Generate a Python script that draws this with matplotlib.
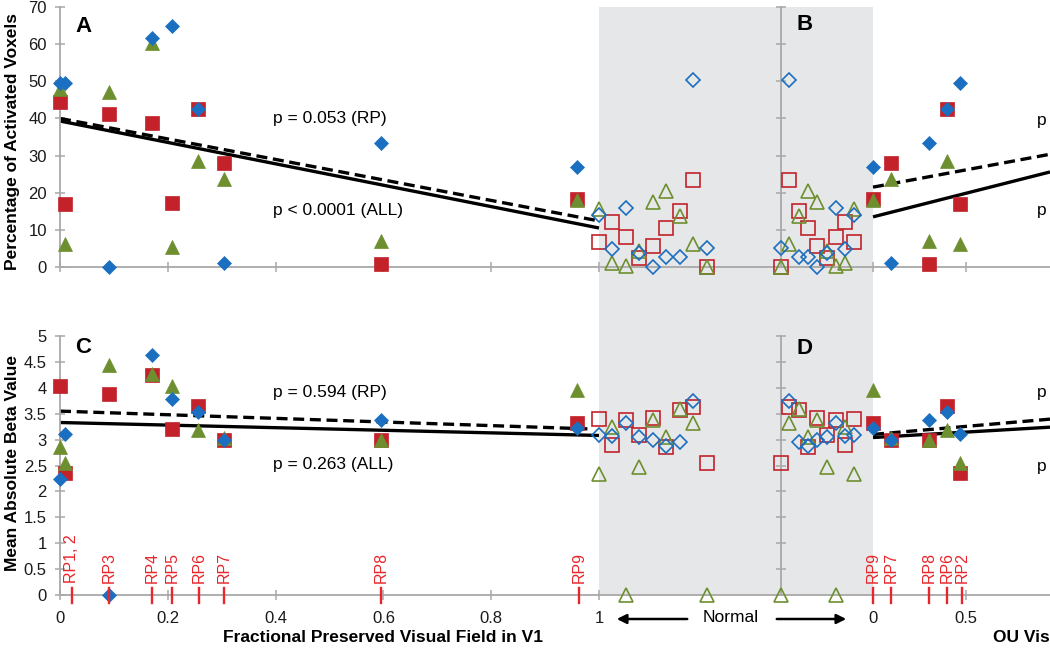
"""
Activated voxels (%) and mean absolute beta value against preserved visual
field. Filled markers are RP patients, open markers normal controls (grey
band). Left panels use fractional field in V1, right panels OU field.
"""

import matplotlib

matplotlib.use("Agg")
import matplotlib.pyplot as plt
import numpy as np
from matplotlib.patches import Rectangle

plt.rcParams.update({"font.family": ["Liberation Sans", "DejaVu Sans"]})

nan = np.nan

# patients RP1..RP9
v1_field = [0.0, 0.01, 0.09, 0.17, 0.208, 0.256, 0.304, 0.595, 0.96]
ou_field = [nan, 0.47, nan, nan, nan, 0.40, 0.097, 0.30, 0.0]

pct_blue = [49.5, 49.5, 0.0, 61.6, 65.0, 42.5, 1.0, 33.4, 27.0]
pct_red = [44.5, 17.0, 41.2, 38.8, 17.2, 42.5, 28.0, 0.8, 18.2]
pct_green = [48.0, 6.3, 47.0, 60.3, 5.3, 28.6, 23.7, 7.0, 18.0]

beta_blue = [2.24, 3.10, 0.0, 4.63, 3.78, 3.53, 3.00, 3.38, 3.23]
beta_red = [4.03, 2.36, 3.88, 4.24, 3.20, 3.64, 3.00, 3.00, 3.32]
beta_green = [2.86, 2.55, 4.44, 4.27, 4.03, 3.18, 3.03, 3.00, 3.96]

# normal controls (9), placed side by side inside the grey band
normal_x_v1 = [1.2, 1.175, 1.15, 1.125, 1.1, 1.075, 1.05, 1.025, 1.0]
normal_x_ou = [-0.495, -0.45, -0.40, -0.35, -0.30, -0.25, -0.20, -0.15, -0.10]

n_pct_blue = [5.1, 50.3, 2.7, 2.7, 0.0, 3.8, 15.9, 4.8, 14.0]
n_pct_red = [0.0, 23.4, 15.1, 10.5, 5.7, 2.4, 8.1, 12.1, 6.7]
n_pct_green = [0.0, 6.2, 13.8, 20.5, 17.5, 4.3, 0.3, 1.0, 15.6]

n_beta_blue = [nan, 3.74, 2.95, 2.87, 2.99, 3.05, 3.32, 3.06, 3.09]
n_beta_red = [2.55, 3.63, 3.58, 2.85, 3.41, 3.09, 3.38, 2.90, 3.40]
n_beta_green = [0.0, 3.32, 3.60, 3.05, 3.38, 2.47, 0.0, 3.24, 2.33]

# regression lines: (intercept, slope, x_end)
fit_a_rp = (40.0, -27.6, 1.0)
fit_a_all = (39.3, -28.8, 1.0)
fit_b_rp = (21.5, 9.3, 0.952)
fit_b_all = (13.5, 12.7, 0.952)
fit_c_rp = (3.55, -0.35, 0.98)
fit_c_all = (3.33, -0.25, 1.0)
fit_d_rp = (3.10, 0.31, 0.952)
fit_d_all = (3.04, 0.21, 0.952)

p_text_a = ["p = 0.053 (RP)", "p < 0.0001 (ALL)"]
p_text_c = ["p = 0.594 (RP)", "p = 0.263 (ALL)"]

rp_labels_v1 = ["RP1, 2", "RP3", "RP4", "RP5", "RP6", "RP7", "RP8", "RP9"]
rp_pos_v1 = [0.022, 0.091, 0.171, 0.208, 0.258, 0.305, 0.596, 0.963]
rp_labels_ou = ["RP9", "RP7", "RP8", "RP6", "RP2"]
rp_pos_ou = [0.0, 0.097, 0.30, 0.40, 0.48]

pct_ticks = [0, 10, 20, 30, 40, 50, 60, 70]
beta_ticks = [0, 0.5, 1, 1.5, 2, 2.5, 3, 3.5, 4, 4.5, 5]
beta_ticklabels = ["0", "0.5", "1", "1.5", "2", "2.5", "3", "3.5", "4", "4.5", "5"]
v1_ticks = [0, 0.2, 0.4, 0.6, 0.8, 1.0]
v1_ticklabels = ["0", "0.2", "0.4", "0.6", "0.8", "1"]
ou_ticks = [0, 0.5]
ou_ticklabels = ["0", "0.5"]

BLUE = "#1b6fc0"
RED = "#c3222b"
GREEN = "#6d8f2f"
AXIS = "#a8a8a8"
BAND = "#e6e7e8"
RP_RED = "#e8262b"

W, H = 1050, 648


def fx(px):
    return px / W


def fy(py):
    return 1 - py / H


def style_axes(ax, xlim, ylim, yticks, xticks):
    ax.set_facecolor("none")
    ax.set_xlim(*xlim)
    ax.set_ylim(*ylim)
    for side in ("top", "right"):
        ax.spines[side].set_visible(False)
    for side in ("left", "bottom"):
        ax.spines[side].set_color(AXIS)
        ax.spines[side].set_linewidth(1.3)
    ax.set_yticks(yticks)
    ax.set_xticks(xticks)
    ax.tick_params(direction="inout", length=7, width=1.1, color=AXIS,
                   labelsize=12, labelcolor="#1a1a1a")
    ax.tick_params(axis="y", pad=6)
    ax.tick_params(axis="x", pad=8)


def draw_points(ax, xs, series, hollow=False):
    reds, greens, blues = series
    for vals, marker, ms, col in ((reds, "s", 9.4, RED),
                                  (greens, "^", 9.8, GREEN),
                                  (blues, "D", 7.2, BLUE)):
        if hollow:
            ax.plot(xs, vals, ls="none", marker=marker, ms=ms, mfc="none",
                    mec=col, mew=1.2, clip_on=False, zorder=3)
        else:
            ax.plot(xs, vals, ls="none", marker=marker, ms=ms, mfc=col,
                    mec=col, mew=0.5, clip_on=False, zorder=4)


def draw_fit(ax, fit, dashed):
    b, m, xe = fit
    xs = np.array([0.0, xe])
    kw = dict(color="black", lw=2.4, solid_capstyle="butt", zorder=2)
    if dashed:
        ax.plot(xs, b + m * xs, ls=(0, (3.3, 1.7)), **kw)
    else:
        ax.plot(xs, b + m * xs, **kw)


def draw_rp_marks(ax, labels, positions):
    for lab, x in zip(labels, positions):
        ax.plot([x, x], [-0.15, 0.14], color=RP_RED, lw=1.7, clip_on=False,
                zorder=5)
        ax.text(x, 0.23, lab, rotation=90, ha="center", va="bottom",
                color=RP_RED, fontsize=11.5)


def make_figure():
    fig = plt.figure(figsize=(W / 100, H / 100), dpi=100)

    fig.patches.append(Rectangle((fx(599), fy(595)), (873 - 599) / W,
                                 (595 - 7) / H, transform=fig.transFigure,
                                 facecolor=BAND, edgecolor="none", zorder=-1))

    left_w, right_w = (781 - 60) / W, (1050 - 781) / W
    ax_a = fig.add_axes([fx(60), fy(267), left_w, 260 / H])
    ax_b = fig.add_axes([fx(781), fy(267), right_w, 260 / H])
    ax_c = fig.add_axes([fx(60), fy(595), left_w, 259 / H])
    ax_d = fig.add_axes([fx(781), fy(595), right_w, 259 / H])

    v1_lim = (0, 721 / 539)
    ou_lim = (-0.495, 0.952)
    style_axes(ax_a, v1_lim, (0, 70), pct_ticks, v1_ticks)
    style_axes(ax_b, ou_lim, (0, 70), pct_ticks, ou_ticks)
    style_axes(ax_c, v1_lim, (0, 5), beta_ticks, v1_ticks)
    style_axes(ax_d, ou_lim, (0, 5), beta_ticks, ou_ticks)
    ax_c.set_yticklabels(beta_ticklabels)
    ax_c.set_xticklabels(v1_ticklabels)
    ax_d.set_xticklabels(ou_ticklabels)
    for ax in (ax_a, ax_b):
        ax.tick_params(axis="x", labelbottom=False)
    for ax in (ax_b, ax_d):
        ax.tick_params(axis="y", labelleft=False)

    # regression lines
    draw_fit(ax_a, fit_a_rp, True)
    draw_fit(ax_a, fit_a_all, False)
    draw_fit(ax_b, fit_b_rp, True)
    draw_fit(ax_b, fit_b_all, False)
    draw_fit(ax_c, fit_c_rp, True)
    draw_fit(ax_c, fit_c_all, False)
    draw_fit(ax_d, fit_d_rp, True)
    draw_fit(ax_d, fit_d_all, False)

    # points
    draw_points(ax_a, normal_x_v1, (n_pct_red, n_pct_green, n_pct_blue), True)
    draw_points(ax_b, normal_x_ou, (n_pct_red, n_pct_green, n_pct_blue), True)
    draw_points(ax_c, normal_x_v1, (n_beta_red, n_beta_green, n_beta_blue), True)
    draw_points(ax_d, normal_x_ou, (n_beta_red, n_beta_green, n_beta_blue), True)
    draw_points(ax_a, v1_field, (pct_red, pct_green, pct_blue))
    draw_points(ax_b, ou_field, (pct_red, pct_green, pct_blue))
    draw_points(ax_c, v1_field, (beta_red, beta_green, beta_blue))
    draw_points(ax_d, ou_field, (beta_red, beta_green, beta_blue))

    draw_rp_marks(ax_c, rp_labels_v1, rp_pos_v1)
    draw_rp_marks(ax_d, rp_labels_ou, rp_pos_ou)

    # panel letters and p values
    for letter, px, py in (("A", 75, 26), ("B", 797, 25), ("C", 75, 347), ("D", 797, 348)):
        fig.text(fx(px), fy(py), letter, fontsize=16, fontweight="bold",
                 ha="left", va="center")
    for txt, py in zip(p_text_a, (119, 210)):
        fig.text(fx(273), fy(py), txt, fontsize=12.5, ha="left", va="center")
    for txt, py in zip(p_text_c, (393, 465)):
        fig.text(fx(273), fy(py), txt, fontsize=12.5, ha="left", va="center")
    for py in (120, 210, 393, 467):
        fig.text(fx(1037), fy(py), "p", fontsize=12.5, ha="left", va="center")

    # axis titles
    fig.text(fx(13), fy(141), "Percentage of Activated Voxels", rotation=90,
             fontsize=12.5, fontweight="bold", ha="center", va="center")
    fig.text(fx(13), fy(463), "Mean Absolute Beta Value", rotation=90,
             fontsize=12.5, fontweight="bold", ha="center", va="center")
    fig.text(fx(383), fy(638), "Fractional Preserved Visual Field in V1",
             fontsize=12.5, fontweight="bold", ha="center", va="center")
    fig.text(fx(993), fy(638), "OU Vis", fontsize=12.5,
             fontweight="bold", ha="left", va="center")

    # "Normal" with arrows
    fig.text(fx(731), fy(618), "Normal", fontsize=12.5, ha="center", va="center")
    arrow = dict(arrowstyle="-|>", lw=1.8, color="black", mutation_scale=14)
    ax_c.annotate("", xy=(fx(614), fy(619)), xytext=(fx(690), fy(619)),
                  xycoords="figure fraction", textcoords="figure fraction",
                  arrowprops=arrow)
    ax_c.annotate("", xy=(fx(849), fy(619)), xytext=(fx(774), fy(619)),
                  xycoords="figure fraction", textcoords="figure fraction",
                  arrowprops=arrow)

    fig.savefig("out.png", dpi=100)
    plt.close(fig)


if __name__ == "__main__":
    make_figure()
